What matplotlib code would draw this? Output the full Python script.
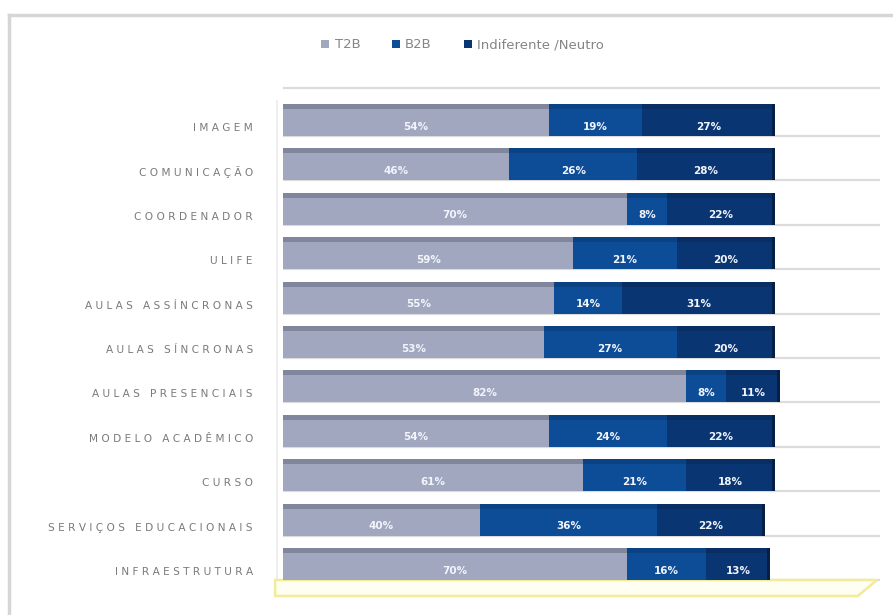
import matplotlib
matplotlib.use("Agg")
import numpy as np
import matplotlib.pyplot as plt
from matplotlib.patches import Patch, Polygon
from matplotlib.lines import Line2D

categories = ["IMAGEM", "COMUNICAÇÃO", "COORDENADOR", "ULIFE",
              "AULAS ASSÍNCRONAS", "AULAS SÍNCRONAS", "AULAS PRESENCIAIS",
              "MODELO ACADÊMICO", "CURSO", "SERVIÇOS EDUCACIONAIS",
              "INFRAESTRUTURA"]
t2b    = [54, 46, 70, 59, 55, 53, 82, 54, 61, 40, 70]
b2b    = [19, 26,  8, 21, 14, 27,  8, 24, 21, 36, 16]
neutro = [27, 28, 22, 20, 31, 20, 11, 22, 18, 22, 13]
series_names = ["T2B", "B2B", "Indiferente /Neutro"]

front_cols = ["#a0a7bf", "#0d4d97", "#0a3573"]
top_cols   = ["#80869c", "#0b4283", "#092e64"]

W, H = 893, 615
fig = plt.figure(figsize=(W / 100, H / 100), dpi=100)
fig.patch.set_facecolor("white")

# axes: 100% spans 283px..775px, ylim covers 11 rows of ~44.4px
x0, x1 = 283, 880
y_top, y_bot = 97.8, 586.2
ax = fig.add_axes([x0 / W, 1 - y_bot / H, (x1 - x0) / W, (y_bot - y_top) / H])
px_per_pct = 492 / 100
xmax = (x1 - x0) / px_per_pct
ax.set_xlim(0, xmax)
ax.set_ylim(len(categories) - 0.5, -0.5)
ax.axis("off")

y = np.arange(len(categories))

# back-wall gridlines
grid_y = list(y + 0.36) + [-0.72]
ax.hlines(grid_y, 0, xmax, color="#dcdcdc", lw=1.6, zorder=0, clip_on=False)

# stacked bars: front face + darker top strip
left = np.zeros(len(categories))
for vals, fc, tc in zip([t2b, b2b, neutro], front_cols, top_cols):
    vals = np.array(vals, dtype=float)
    ax.barh(y + 0.056, vals, left=left, height=0.608, color=fc, zorder=2)
    ax.barh(y - 0.304, vals, left=left, height=0.113, color=tc, zorder=2)
    for yi, l, v in zip(y, left, vals):
        ax.text(l + v / 2, yi + 0.15, f"{int(v)}%", ha="center", va="center",
                color="#f2f5fb", fontsize=7.5, fontweight="bold", zorder=4)
    left += vals

# dark end caps
ax.barh(y, 0.6, left=left - 0.6, height=0.72, color="#061f47", zorder=3)

# category labels with letter spacing
for yi, name in zip(y, categories):
    ax.text(-6.1, yi + 0.18, " ".join(name), ha="right", va="center",
            color="#7a7a7a", fontsize=7.6, clip_on=False)

# floor outline
floor = Polygon([(-1.6, 10.36), (xmax - 0.6, 10.36), (xmax - 4.5, 10.72),
                 (-1.6, 10.72)], closed=True, facecolor="#fffef2",
                edgecolor="#f1eb9a", lw=1.8, zorder=1, clip_on=False)
ax.add_patch(floor)
ax.vlines(-1.2, -0.45, 10.36, color="#ececec", lw=1.2, zorder=0, clip_on=False)

# legend
handles = [Patch(facecolor=c, edgecolor="none") for c in front_cols]
leg = fig.legend(handles, series_names, loc="center", ncol=3,
                 bbox_to_anchor=(0.518, 1 - 45 / H), frameon=False,
                 fontsize=9.5, handlelength=0.6, handleheight=0.6,
                 handletextpad=0.4, columnspacing=2.4)
for t in leg.get_texts():
    t.set_color("#858585")

# outer frame (top and left edges)
fig.add_artist(Line2D([9 / W, 1], [1 - 15 / H, 1 - 15 / H],
                      color="#d6d6d6", lw=2.5, transform=fig.transFigure))
fig.add_artist(Line2D([9 / W, 9 / W], [0, 1 - 15 / H],
                      color="#d6d6d6", lw=2.5, transform=fig.transFigure))

fig.savefig("out.png", dpi=100)
